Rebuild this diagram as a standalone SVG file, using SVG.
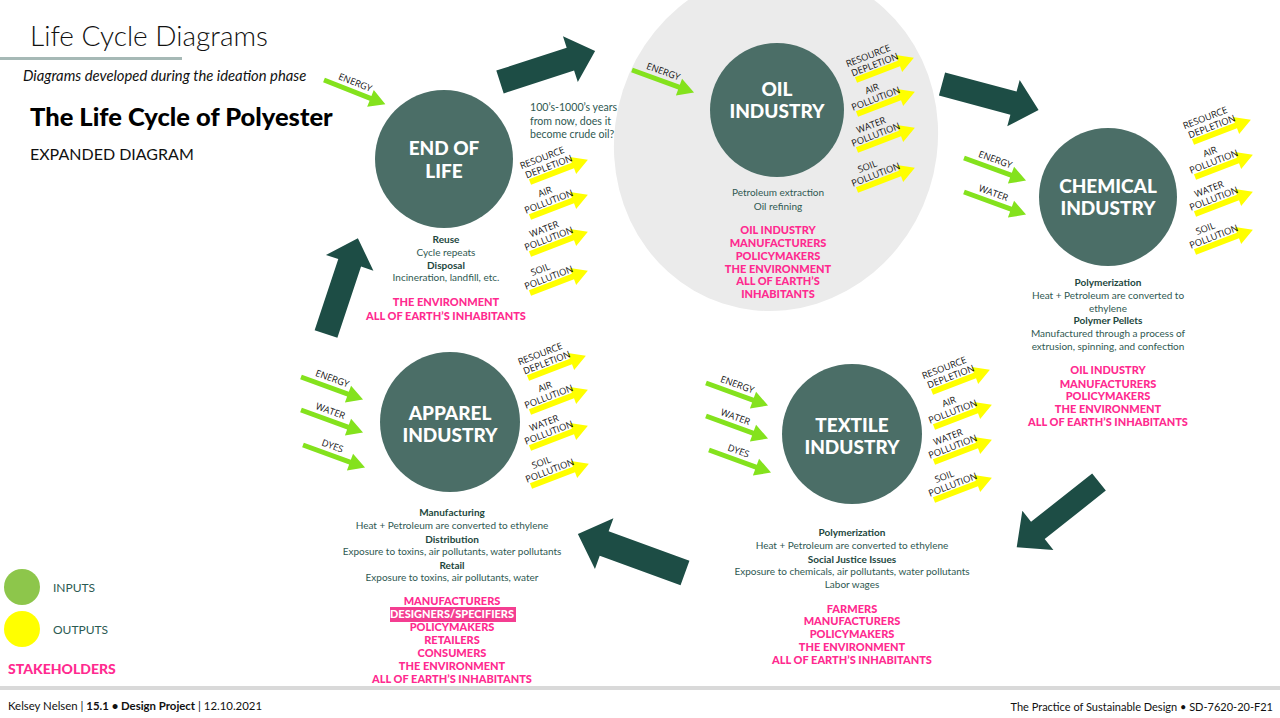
<svg xmlns="http://www.w3.org/2000/svg" xmlns:xlink="http://www.w3.org/1999/xlink" width="1280" height="718" viewBox="0 0 1280 718">
<style>
.bg{fill:#ffffff}
.node circle{fill:#4b6e67}
.nt{font-family:Lato,'Liberation Sans',sans-serif;font-weight:900;font-size:19px;fill:#ffffff;text-anchor:middle}
.d{font-family:Lato,'Liberation Sans',sans-serif;font-size:10px;fill:#2f5952;text-anchor:middle}
.db{font-family:Lato,'Liberation Sans',sans-serif;font-size:10px;font-weight:700;fill:#1d4740;text-anchor:middle}
.p{font-family:Lato,'Liberation Sans',sans-serif;font-size:11px;font-weight:900;fill:#ff2a8f;text-anchor:middle}
.al{font-family:'Open Sans','Liberation Sans',sans-serif;font-size:9.3px;fill:#111111;text-anchor:middle}
.big{fill:#1d4d45}
.ga{fill:#84e21d}
.ya{fill:#ffff00}
.note{font-family:Lato,'Liberation Sans',sans-serif;font-size:10.6px;fill:#2f5952}
</style>
<defs>
<polygon id="ga" class="ga" points="0,-2.5 50,-2.5 50,-9 66,0 50,9 50,2.5 0,2.5"/>
<polygon id="ya" class="ya" points="0,-3 46,-3 46,-9 62,0 46,9 46,3 0,3"/>
</defs>
<rect class="bg" x="0" y="0" width="1280" height="718"/>

<!-- header -->
<g id="header">
<text x="30" y="46" font-family="Lato,'Liberation Sans',sans-serif" font-weight="300" font-size="28" fill="#111">Life Cycle Diagrams</text>
<line x1="0" y1="58.5" x2="182" y2="58.5" stroke="#a6b9b6" stroke-width="3"/>
<text x="23" y="81" font-family="Lato,'Liberation Sans',sans-serif" font-style="italic" font-size="14.8" fill="#111">Diagrams developed during the ideation phase</text>
<text x="30" y="126" font-family="Lato,'Liberation Sans',sans-serif" font-weight="900" font-size="25.5" fill="#000">The Life Cycle of Polyester</text>
<text x="30" y="160" font-family="Lato,'Liberation Sans',sans-serif" font-size="16" fill="#111">EXPANDED DIAGRAM</text>
</g>

<!-- oil background halo -->
<ellipse cx="776" cy="140" rx="161" ry="172" transform="rotate(18 776 140)" fill="#ebebeb"/>

<!-- End of life -->
<g id="end-of-life" class="node">
<circle cx="444" cy="159" r="69"/>
<text class="nt" x="444" y="155">END OF</text>
<text class="nt" x="444" y="178">LIFE</text>
<g transform="translate(324,80) rotate(21.6)"><use href="#ga"/><text class="al" x="30" y="-6">ENERGY</text></g>
<g transform="translate(530,182) rotate(-21)"><use href="#ya"/><text class="al" x="20" y="-15">RESOURCE</text><text class="al" x="23" y="-4.5">DEPLETION</text></g>
<g transform="translate(530,217) rotate(-21)"><use href="#ya"/><text class="al" x="23" y="-15">AIR</text><text class="al" x="23" y="-4.5">POLLUTION</text></g>
<g transform="translate(530,254) rotate(-21)"><use href="#ya"/><text class="al" x="22" y="-15">WATER</text><text class="al" x="23" y="-4.5">POLLUTION</text></g>
<g transform="translate(530,293) rotate(-21)"><use href="#ya"/><text class="al" x="18" y="-15">SOIL</text><text class="al" x="23" y="-4.5">POLLUTION</text></g>
<text class="note" x="530" y="111">100’s-1000’s years</text>
<text class="note" x="530" y="125">from now, does it</text>
<text class="note" x="530" y="138">become crude oil?</text>
<text class="db" x="446" y="243">Reuse</text>
<text class="d" x="446" y="256">Cycle repeats</text>
<text class="db" x="446" y="269">Disposal</text>
<text class="d" x="446" y="281">Incineration, landfill, etc.</text>
<text class="p" x="446" y="306">THE ENVIRONMENT</text>
<text class="p" x="446" y="320">ALL OF EARTH’S INHABITANTS</text>
</g>

<!-- Oil industry -->
<g id="oil-industry" class="node">
<circle cx="777" cy="110" r="67"/>
<text class="nt" x="777" y="96">OIL</text>
<text class="nt" x="777" y="118">INDUSTRY</text>
<g transform="translate(632,70) rotate(20)"><use href="#ga"/><text class="al" x="30" y="-6">ENERGY</text></g>
<g transform="translate(856,80) rotate(-21)"><use href="#ya"/><text class="al" x="20" y="-15">RESOURCE</text><text class="al" x="23" y="-4.5">DEPLETION</text></g>
<g transform="translate(857,114) rotate(-21)"><use href="#ya"/><text class="al" x="23" y="-15">AIR</text><text class="al" x="23" y="-4.5">POLLUTION</text></g>
<g transform="translate(857,150) rotate(-21)"><use href="#ya"/><text class="al" x="22" y="-15">WATER</text><text class="al" x="23" y="-4.5">POLLUTION</text></g>
<g transform="translate(857,190) rotate(-21)"><use href="#ya"/><text class="al" x="18" y="-15">SOIL</text><text class="al" x="23" y="-4.5">POLLUTION</text></g>
<text class="d" x="778" y="196">Petroleum extraction</text>
<text class="d" x="778" y="210">Oil refining</text>
<text class="p" x="778" y="234">OIL INDUSTRY</text>
<text class="p" x="778" y="247">MANUFACTURERS</text>
<text class="p" x="778" y="260">POLICYMAKERS</text>
<text class="p" x="778" y="273">THE ENVIRONMENT</text>
<text class="p" x="778" y="285">ALL OF EARTH’S</text>
<text class="p" x="778" y="298">INHABITANTS</text>
</g>

<!-- Chemical industry -->
<g id="chemical-industry" class="node">
<circle cx="1108" cy="197" r="69"/>
<text class="nt" x="1108" y="193">CHEMICAL</text>
<text class="nt" x="1108" y="215">INDUSTRY</text>
<g transform="translate(964,158) rotate(20)"><use href="#ga"/><text class="al" x="30" y="-6">ENERGY</text></g>
<g transform="translate(964,192) rotate(20)"><use href="#ga"/><text class="al" x="28" y="-6">WATER</text></g>
<g transform="translate(1193,142) rotate(-21)"><use href="#ya"/><text class="al" x="20" y="-15">RESOURCE</text><text class="al" x="23" y="-4.5">DEPLETION</text></g>
<g transform="translate(1195,177) rotate(-21)"><use href="#ya"/><text class="al" x="23" y="-15">AIR</text><text class="al" x="23" y="-4.5">POLLUTION</text></g>
<g transform="translate(1195,214) rotate(-21)"><use href="#ya"/><text class="al" x="22" y="-15">WATER</text><text class="al" x="23" y="-4.5">POLLUTION</text></g>
<g transform="translate(1195,252) rotate(-21)"><use href="#ya"/><text class="al" x="18" y="-15">SOIL</text><text class="al" x="23" y="-4.5">POLLUTION</text></g>
<text class="db" x="1108" y="286">Polymerization</text>
<text class="d" x="1108" y="299">Heat + Petroleum are converted to</text>
<text class="d" x="1108" y="312">ethylene</text>
<text class="db" x="1108" y="324">Polymer Pellets</text>
<text class="d" x="1108" y="337">Manufactured through a process of</text>
<text class="d" x="1108" y="350">extrusion, spinning, and confection</text>
<text class="p" x="1108" y="374">OIL INDUSTRY</text>
<text class="p" x="1108" y="388">MANUFACTURERS</text>
<text class="p" x="1108" y="400">POLICYMAKERS</text>
<text class="p" x="1108" y="413">THE ENVIRONMENT</text>
<text class="p" x="1108" y="426">ALL OF EARTH’S INHABITANTS</text>
</g>

<!-- Textile industry -->
<g id="textile-industry" class="node">
<circle cx="852" cy="434" r="70"/>
<text class="nt" x="852" y="432">TEXTILE</text>
<text class="nt" x="852" y="454">INDUSTRY</text>
<g transform="translate(706,383) rotate(20)"><use href="#ga"/><text class="al" x="30" y="-6">ENERGY</text></g>
<g transform="translate(706,416) rotate(20)"><use href="#ga"/><text class="al" x="28" y="-6">WATER</text></g>
<g transform="translate(709,450) rotate(20)"><use href="#ga"/><text class="al" x="28" y="-6">DYES</text></g>
<g transform="translate(932,392) rotate(-21)"><use href="#ya"/><text class="al" x="20" y="-15">RESOURCE</text><text class="al" x="23" y="-4.5">DEPLETION</text></g>
<g transform="translate(934,427) rotate(-21)"><use href="#ya"/><text class="al" x="23" y="-15">AIR</text><text class="al" x="23" y="-4.5">POLLUTION</text></g>
<g transform="translate(934,462) rotate(-21)"><use href="#ya"/><text class="al" x="22" y="-15">WATER</text><text class="al" x="23" y="-4.5">POLLUTION</text></g>
<g transform="translate(934,500) rotate(-21)"><use href="#ya"/><text class="al" x="18" y="-15">SOIL</text><text class="al" x="23" y="-4.5">POLLUTION</text></g>
<text class="db" x="852" y="536">Polymerization</text>
<text class="d" x="852" y="549">Heat + Petroleum are converted to ethylene</text>
<text class="db" x="852" y="563">Social Justice Issues</text>
<text class="d" x="852" y="575">Exposure to chemicals, air pollutants, water pollutants</text>
<text class="d" x="852" y="588">Labor wages</text>
<text class="p" x="852" y="613">FARMERS</text>
<text class="p" x="852" y="625">MANUFACTURERS</text>
<text class="p" x="852" y="638">POLICYMAKERS</text>
<text class="p" x="852" y="651">THE ENVIRONMENT</text>
<text class="p" x="852" y="664">ALL OF EARTH’S INHABITANTS</text>
</g>

<!-- Apparel industry -->
<g id="apparel-industry" class="node">
<circle cx="450" cy="422" r="70"/>
<text class="nt" x="450" y="420">APPAREL</text>
<text class="nt" x="450" y="442">INDUSTRY</text>
<g transform="translate(301,377) rotate(20)"><use href="#ga"/><text class="al" x="30" y="-6">ENERGY</text></g>
<g transform="translate(301,410) rotate(20)"><use href="#ga"/><text class="al" x="28" y="-6">WATER</text></g>
<g transform="translate(303,445) rotate(20)"><use href="#ga"/><text class="al" x="28" y="-6">DYES</text></g>
<g transform="translate(528,378) rotate(-21)"><use href="#ya"/><text class="al" x="20" y="-15">RESOURCE</text><text class="al" x="23" y="-4.5">DEPLETION</text></g>
<g transform="translate(530,412) rotate(-21)"><use href="#ya"/><text class="al" x="23" y="-15">AIR</text><text class="al" x="23" y="-4.5">POLLUTION</text></g>
<g transform="translate(530,448) rotate(-21)"><use href="#ya"/><text class="al" x="22" y="-15">WATER</text><text class="al" x="23" y="-4.5">POLLUTION</text></g>
<g transform="translate(531,486) rotate(-21)"><use href="#ya"/><text class="al" x="18" y="-15">SOIL</text><text class="al" x="23" y="-4.5">POLLUTION</text></g>
<text class="db" x="452" y="516">Manufacturing</text>
<text class="d" x="452" y="529">Heat + Petroleum are converted to ethylene</text>
<text class="db" x="452" y="543">Distribution</text>
<text class="d" x="452" y="555">Exposure to toxins, air pollutants, water pollutants</text>
<text class="db" x="452" y="569">Retail</text>
<text class="d" x="452" y="581">Exposure to toxins, air pollutants, water</text>
<text class="p" x="452" y="605">MANUFACTURERS</text>
<rect x="390" y="607" width="126" height="15" fill="#f43e91"/>
<text class="p" x="452" y="618" style="fill:#ffffff">DESIGNERS/SPECIFIERS</text>
<text class="p" x="452" y="631">POLICYMAKERS</text>
<text class="p" x="452" y="644">RETAILERS</text>
<text class="p" x="452" y="657">CONSUMERS</text>
<text class="p" x="452" y="670">THE ENVIRONMENT</text>
<text class="p" x="452" y="683">ALL OF EARTH’S INHABITANTS</text>
</g>

<!-- connectors: big cycle arrows -->
<g id="connectors">
<polygon class="big" transform="translate(326,334) rotate(-71.6)" points="0,-12 75,-12 75,-25 101,0 75,25 75,12 0,12"/>
<polygon class="big" transform="translate(500,82) rotate(-18)" points="0,-12 74,-12 74,-24 100,0 74,24 74,12 0,12"/>
<polygon class="big" transform="translate(942,84) rotate(15)" points="0,-12 74,-12 74,-24 100,0 74,24 74,12 0,12"/>
<polygon class="big" transform="translate(1099,482) rotate(141.6)" points="0,-11 78,-11 78,-25 105,0 78,25 78,11 0,11"/>
<polygon class="big" transform="translate(685,573) rotate(-160)" points="0,-13 86,-13 86,-27 114,0 86,27 86,13 0,13"/>
</g>

<!-- legend -->
<g id="legend">
<circle cx="22" cy="587" r="18" fill="#8dc64b"/>
<circle cx="22" cy="629" r="18" fill="#ffff00"/>
<text x="53" y="592" font-family="Lato,'Liberation Sans',sans-serif" font-size="12" fill="#2b5a52">INPUTS</text>
<text x="53" y="634" font-family="Lato,'Liberation Sans',sans-serif" font-size="12" fill="#2b5a52">OUTPUTS</text>
<text x="8" y="674" font-family="Lato,'Liberation Sans',sans-serif" font-size="14" font-weight="900" fill="#ff2a8f">STAKEHOLDERS</text>
</g>

<!-- footer -->
<g id="footer">
<rect x="0" y="686" width="1280" height="4" fill="#d9d9d9"/>
<text x="8" y="710" font-family="Lato,'Liberation Sans',sans-serif" font-size="11.4" fill="#111">Kelsey Nelsen | <tspan font-weight="700">15.1 • Design Project</tspan> | 12.10.2021</text>
<text x="1273" y="711" text-anchor="end" font-family="Lato,'Liberation Sans',sans-serif" font-size="11" fill="#111">The Practice of Sustainable Design • SD-7620-20-F21</text>
</g>
</svg>
